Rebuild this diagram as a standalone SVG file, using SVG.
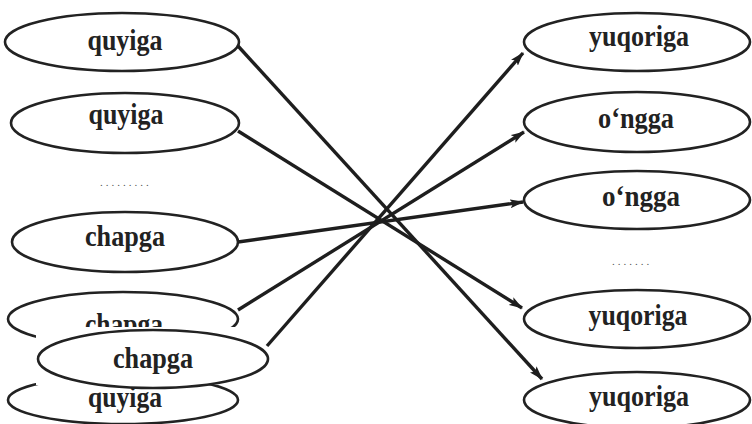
<svg xmlns="http://www.w3.org/2000/svg" width="752" height="424" viewBox="0 0 752 424">
<defs>
<style>
.n{fill:#fff;stroke:#222;stroke-width:2.6}
.t{font-family:"Liberation Serif","Times New Roman",serif;font-weight:bold;font-size:29px;fill:#222;text-anchor:middle}
.d{font-family:"Liberation Serif",serif;font-size:11px;fill:#555;letter-spacing:3px}
.c{fill:none;stroke:#1e1e1e;stroke-width:3.4;marker-end:url(#ah)}
</style>
<marker id="ah" viewBox="0 0 14 9" refX="13" refY="4.5" markerWidth="14" markerHeight="9" markerUnits="userSpaceOnUse" orient="auto">
<path d="M0,0 L14,4.5 L0,9 L3,4.5 Z" fill="#1e1e1e"/>
</marker>
</defs>
<rect width="752" height="424" fill="#fff"/>
<g id="left-quyiga-1"><ellipse class="n" cx="122" cy="42" rx="117" ry="29"/><text class="t" x="125" y="50" textLength="75" lengthAdjust="spacingAndGlyphs">quyiga</text></g>
<g id="left-quyiga-2"><ellipse class="n" cx="125" cy="123" rx="114" ry="30"/><text class="t" x="126" y="124" textLength="75" lengthAdjust="spacingAndGlyphs">quyiga</text></g>
<text class="d" x="100" y="186">.........</text>
<g id="left-chapga-1"><ellipse class="n" cx="125" cy="242" rx="113" ry="30"/><text class="t" x="125" y="246" textLength="80" lengthAdjust="spacingAndGlyphs">chapga</text></g>
<g id="left-chapga-2"><ellipse class="n" cx="123" cy="319" rx="115" ry="27"/><text class="t" x="124" y="334" textLength="78" lengthAdjust="spacingAndGlyphs">chapga</text></g>
<g id="left-quyiga-3"><ellipse class="n" cx="123" cy="400" rx="115" ry="24"/><text class="t" x="125" y="407" textLength="74" lengthAdjust="spacingAndGlyphs">quyiga</text></g>
<g id="left-chapga-overlay"><rect x="36" y="327" width="233" height="58" fill="#fff"/><ellipse class="n" cx="153" cy="359" rx="115" ry="29"/><text class="t" x="153" y="368" textLength="80" lengthAdjust="spacingAndGlyphs">chapga</text></g>
<g id="right-yuqoriga-1"><ellipse class="n" cx="637" cy="42" rx="113" ry="29"/><text class="t" x="639" y="46" textLength="100" lengthAdjust="spacingAndGlyphs">yuqoriga</text></g>
<g id="right-ongga-1"><ellipse class="n" cx="637" cy="122" rx="113" ry="30"/><text class="t" x="636" y="128" textLength="76" lengthAdjust="spacingAndGlyphs">o‘ngga</text></g>
<g id="right-ongga-2"><ellipse class="n" cx="637" cy="200" rx="113" ry="29"/><text class="t" x="641" y="206" textLength="78" lengthAdjust="spacingAndGlyphs">o‘ngga</text></g>
<text class="d" x="612" y="265">.......</text>
<g id="right-yuqoriga-2"><ellipse class="n" cx="637" cy="319" rx="113" ry="29"/><text class="t" x="638" y="325" textLength="99" lengthAdjust="spacingAndGlyphs">yuqoriga</text></g>
<g id="right-yuqoriga-3"><ellipse class="n" cx="637" cy="400" rx="113" ry="28"/><text class="t" x="639" y="406" textLength="100" lengthAdjust="spacingAndGlyphs">yuqoriga</text></g>
<g id="connectors">
<line class="c" x1="238" y1="46" x2="542" y2="379"/>
<line class="c" x1="238" y1="131" x2="522" y2="308"/>
<line class="c" x1="238" y1="242" x2="523" y2="202"/>
<line class="c" x1="238" y1="310" x2="524" y2="132"/>
<line class="c" x1="267" y1="346" x2="523" y2="53"/>
</g>
</svg>
